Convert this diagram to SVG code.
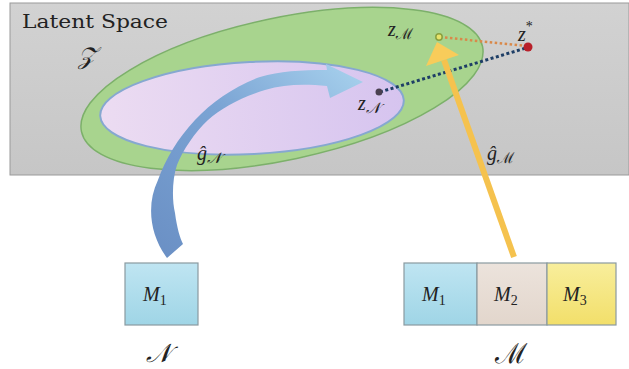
<svg xmlns="http://www.w3.org/2000/svg" width="629" height="369" viewBox="0 0 629 369">
<defs>
<linearGradient id="band" x1="0" y1="0" x2="0" y2="1"><stop offset="0" stop-color="#d2d2d2"/><stop offset="1" stop-color="#c6c6c6"/></linearGradient>
<linearGradient id="purp" x1="0" y1="0" x2="1" y2="0"><stop offset="0" stop-color="#ecdcf2"/><stop offset="1" stop-color="#d6c4ef"/></linearGradient>
<linearGradient id="blue" x1="0" y1="1" x2="1" y2="0"><stop offset="0" stop-color="#6a8fc4"/><stop offset="0.55" stop-color="#7ba4d4"/><stop offset="1" stop-color="#a9d3ee"/></linearGradient>
<linearGradient id="b1" x1="0" y1="0" x2="0" y2="1"><stop offset="0" stop-color="#bfe5f2"/><stop offset="1" stop-color="#9fd5e6"/></linearGradient>
<linearGradient id="b2" x1="0" y1="0" x2="0" y2="1"><stop offset="0" stop-color="#ece3dc"/><stop offset="1" stop-color="#e2d6cc"/></linearGradient>
<linearGradient id="b3" x1="0" y1="0" x2="0" y2="1"><stop offset="0" stop-color="#f8ee9c"/><stop offset="1" stop-color="#f2df6a"/></linearGradient>
</defs>
<style>
.math{font-family:"Liberation Serif","DejaVu Serif",serif;font-style:italic;fill:#222}
.scr{font-family:"DejaVu Serif","Liberation Serif","Noto Sans",serif;fill:#222}
.box{stroke:#8a9aa0;stroke-width:1.2}
</style>
<rect x="10" y="3" width="619" height="172" fill="url(#band)" stroke="#9a9a9a" stroke-width="1"/>
<g id="latent-label">
<text x="22" y="28" font-family="DejaVu Serif, serif" font-size="19" fill="#222" textLength="146" lengthAdjust="spacingAndGlyphs">Latent Space</text>
<text x="78" y="64" class="scr" font-size="24" font-style="italic">𝒵</text>
</g>
<g id="region-M">
<ellipse cx="282" cy="89" rx="205" ry="71" transform="rotate(-12 282 89)" fill="#a8d48e" stroke="#7cb06a" stroke-width="1.5"/>
</g>
<g id="region-N">
<ellipse cx="252" cy="108" rx="152" ry="46" transform="rotate(-3 252 108)" fill="url(#purp)" stroke="#86a8d0" stroke-width="2"/>
</g>
<g id="connectors">
<line x1="440" y1="37" x2="526" y2="46" stroke="#d9894a" stroke-width="2.5" stroke-dasharray="2.5,2.5"/>
<line x1="380" y1="92" x2="526" y2="48" stroke="#1e3e66" stroke-width="3" stroke-dasharray="3,2.5"/>
<path id="arrow-N" d="M167 258 C150 235 146 205 158 180 C165 160 178 138 195 120 C212 102 235 86 260 77 C280 71 300 70 327 70 L326 64 L363 82 L330 98 L327 86 C305 84 285 84 265 90 C240 98 222 108 208 120 C195 132 183 150 177 165 C172 180 172 200 175 213 C177 228 180 238 183 244 Z" fill="url(#blue)"/>
<g id="arrow-M">
<line x1="514" y1="257" x2="444" y2="60" stroke="#f5c24e" stroke-width="6"/>
<polygon points="437,42 426,66 459,55" fill="#f8cc5a"/>
</g>
</g>
<g id="points">
<circle cx="439" cy="37" r="3.2" fill="#e8e36a" stroke="#8aa040" stroke-width="1.5"/>
<circle cx="528" cy="47" r="4.5" fill="#b8202a"/>
<circle cx="379" cy="92" r="3.5" fill="#4a4050"/>
</g>
<g id="labels">
<text x="388" y="36" class="math" font-size="20">z<tspan class="scr" font-size="15" dy="3">ℳ</tspan></text>
<text x="518" y="41" class="math" font-size="20">z<tspan font-style="normal" font-size="14" dy="-10">*</tspan></text>
<text x="358" y="110" class="math" font-size="20">z<tspan class="scr" font-size="15" dy="3">𝒩</tspan></text>
<text x="197" y="160" class="math" font-size="20">ĝ<tspan class="scr" font-size="15" dy="3">𝒩</tspan></text>
<text x="487" y="160" class="math" font-size="20">ĝ<tspan class="scr" font-size="15" dy="3">ℳ</tspan></text>
</g>
<g id="node-N">
<rect x="125" y="263" width="73" height="62" fill="url(#b1)" class="box"/>
<text x="143" y="301" class="math" font-size="20">M<tspan font-style="normal" font-size="14" dy="4">1</tspan></text>
<text x="146" y="362" class="scr" font-size="26" font-style="italic">𝒩</text>
</g>
<g id="node-M">
<rect x="404" y="263" width="73" height="62" fill="url(#b1)" class="box"/>
<rect x="477" y="263" width="70" height="62" fill="url(#b2)" class="box"/>
<rect x="547" y="263" width="69" height="62" fill="url(#b3)" class="box"/>
<text x="422" y="301" class="math" font-size="20">M<tspan font-style="normal" font-size="14" dy="4">1</tspan></text>
<text x="494" y="301" class="math" font-size="20">M<tspan font-style="normal" font-size="14" dy="4">2</tspan></text>
<text x="563" y="301" class="math" font-size="20">M<tspan font-style="normal" font-size="14" dy="4">3</tspan></text>
<text x="495" y="363" class="scr" font-size="28">ℳ</text>
</g>
</svg>
